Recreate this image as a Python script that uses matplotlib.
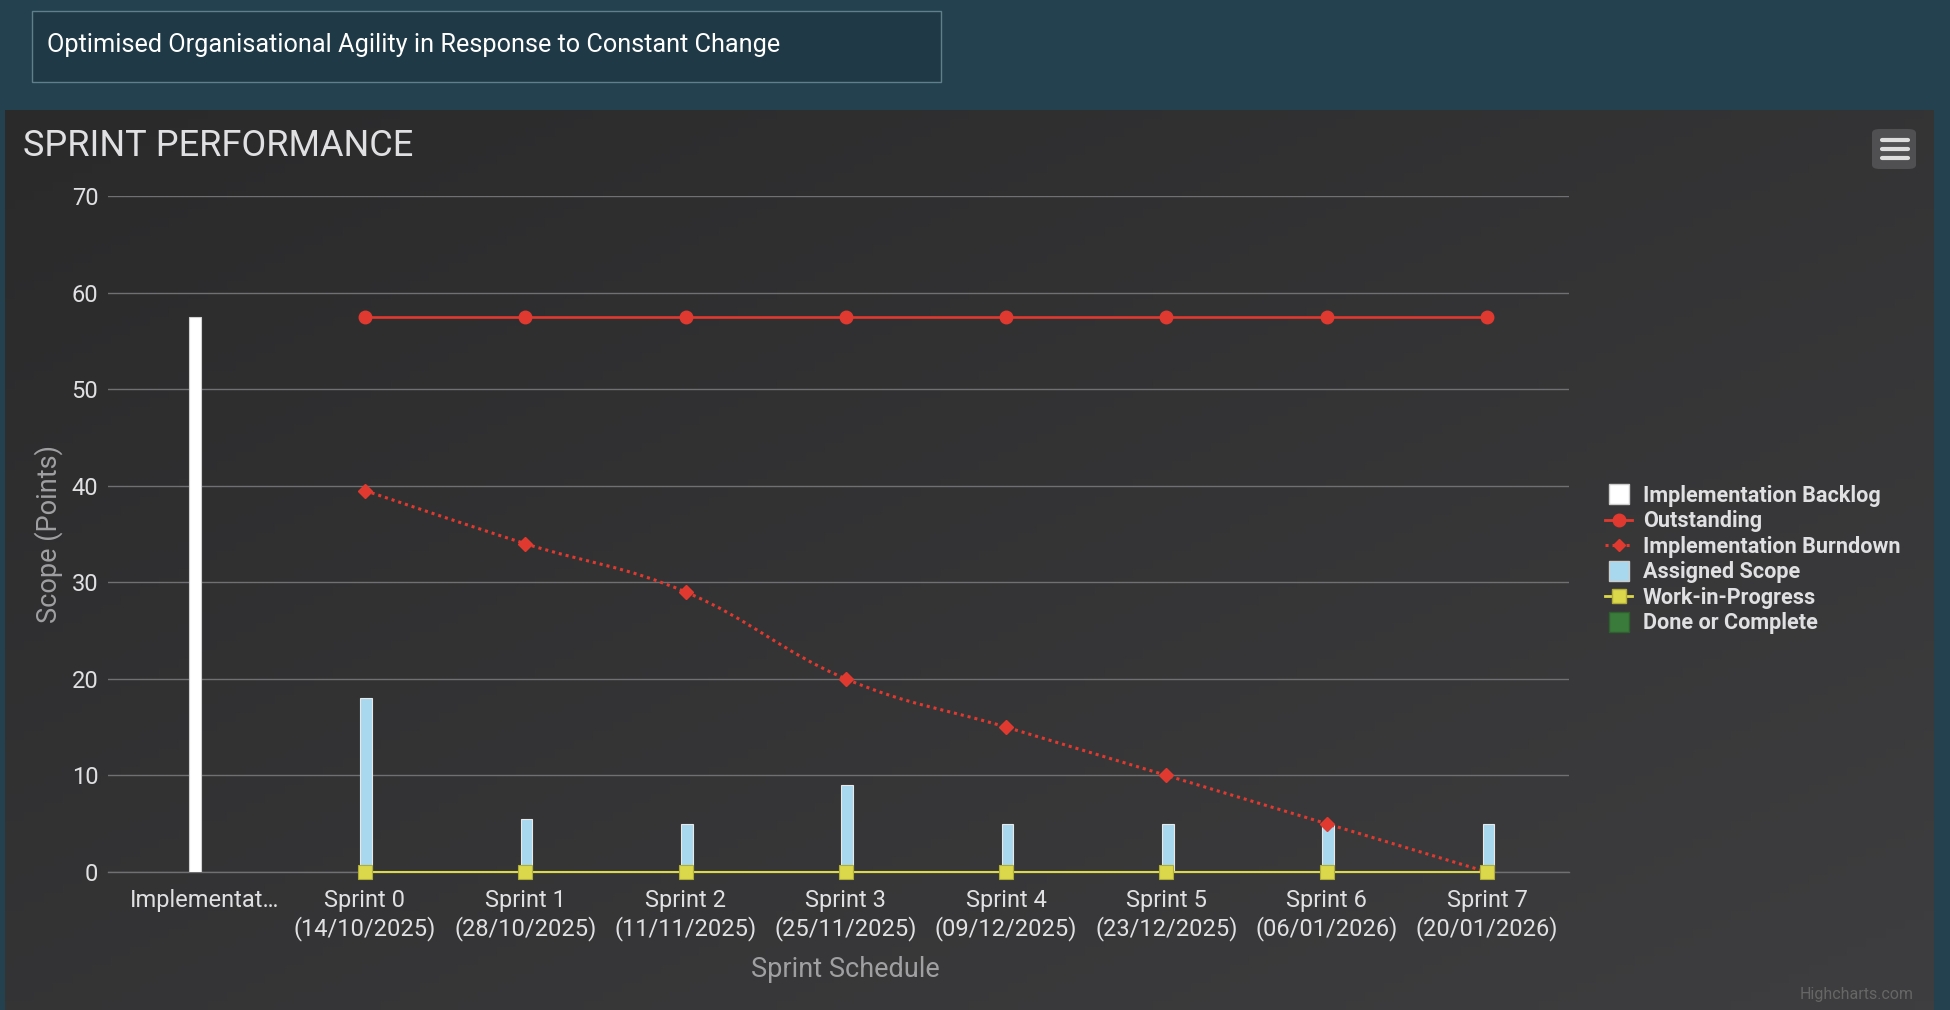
import numpy as np
import matplotlib
matplotlib.use("Agg")
import matplotlib.pyplot as plt
from matplotlib.path import Path
from matplotlib.patches import Rectangle, FancyBboxPatch, PathPatch
from matplotlib.lines import Line2D
from matplotlib.colors import LinearSegmentedColormap

plt.rcParams['font.family'] = ['Roboto', 'DejaVu Sans']

## DATA
categories = ["Implementat\u2026",
              "Sprint 0\n(14/10/2025)", "Sprint 1\n(28/10/2025)",
              "Sprint 2\n(11/11/2025)", "Sprint 3\n(25/11/2025)",
              "Sprint 4\n(09/12/2025)", "Sprint 5\n(23/12/2025)",
              "Sprint 6\n(06/01/2026)", "Sprint 7\n(20/01/2026)"]
backlog = [57.5]                                   # Implementation Backlog (first category)
outstanding = [57.5, 57.5, 57.5, 57.5, 57.5, 57.5, 57.5, 57.5]
burndown = [39.5, 34, 29, 20, 15, 10, 5, 0]
assigned = [18, 5.5, 5, 9, 5, 5, 5, 5]
wip = [0, 0, 0, 0, 0, 0, 0, 0]
done = [0, 0, 0, 0, 0, 0, 0, 0]

## STYLE
W, H = 1950, 1010
PAGE = '#23414e'
TXT = '#E0E0E3'
AXT = '#A0A0A3'
GRID = '#707073'
RED = '#e0392f'
BLUE = '#a8d8ee'
YELLOW = '#dcd84c'
GREEN = '#3a7a3a'

def fx(px):
    return px / W

def fy(py):
    return 1 - py / H

def spline_path(xs, ys, smoothing=1.5):
    """Highcharts-like spline through the points (cubic bezier segments)."""
    denom = smoothing + 1
    verts = [(xs[0], ys[0])]
    codes = [Path.MOVETO]
    right_prev = (xs[0], ys[0])
    n = len(xs)
    for i in range(1, n):
        x, y = xs[i], ys[i]
        if i < n - 1:
            lx = (smoothing * x + xs[i - 1]) / denom
            ly = (smoothing * y + ys[i - 1]) / denom
            rx = (smoothing * x + xs[i + 1]) / denom
            ry = (smoothing * y + ys[i + 1]) / denom
            corr = (ry - ly) * (rx - x) / (rx - lx) + y - ry
            ly += corr
            ry += corr
            if ly > max(ys[i - 1], y):
                ly = max(ys[i - 1], y); ry = 2 * y - ly
            elif ly < min(ys[i - 1], y):
                ly = min(ys[i - 1], y); ry = 2 * y - ly
            if ry > max(ys[i + 1], y):
                ry = max(ys[i + 1], y); ly = 2 * y - ry
            elif ry < min(ys[i + 1], y):
                ry = min(ys[i + 1], y); ly = 2 * y - ry
        else:
            lx, ly, rx, ry = x, y, x, y
        verts += [right_prev, (lx, ly), (x, y)]
        codes += [Path.CURVE4] * 3
        right_prev = (rx, ry)
    return Path(verts, codes)

fig = plt.figure(figsize=(W / 100, H / 100), dpi=100)
fig.patch.set_facecolor(PAGE)

# header box
fig.patches.append(Rectangle((fx(32), fy(82)), fx(941 - 32), (82 - 11) / H,
                             transform=fig.transFigure, facecolor='#1f3a46',
                             edgecolor='#5f7f8c', lw=1, zorder=0))
fig.text(fx(47), fy(45), "Optimised Organisational Agility in Response to Constant Change",
         color='white', fontsize=18.2, ha='left', va='center')

# chart panel with diagonal gradient
bg = fig.add_axes([fx(5), 0, fx(1934 - 5), (H - 110) / H], zorder=0)
gx, gy = np.meshgrid(np.linspace(0, 1, 200), np.linspace(0, 1, 100))
bg.imshow((gx + gy) / 2, cmap=LinearSegmentedColormap.from_list('bg', ['#2a2a2b', '#3e3e40']),
          aspect='auto', extent=(0, 1, 1, 0))
bg.axis('off')

fig.text(fx(23), fy(146), "SPRINT PERFORMANCE", color=TXT, fontsize=26,
         ha='left', va='center')

# context menu button
fig.patches.append(FancyBboxPatch((fx(1872), fy(169)), fx(1916 - 1872), (169 - 129) / H,
                                  boxstyle='round,pad=0,rounding_size=0.004',
                                  transform=fig.transFigure, facecolor='#505053',
                                  edgecolor='none', zorder=2))
for yy in (139.5, 148.5, 157.5):
    fig.lines.append(Line2D([fx(1882), fx(1908)], [fy(yy), fy(yy)], transform=fig.transFigure,
                            color='#DDDDDD', lw=3, solid_capstyle='round', zorder=3))

fig.text(fx(1914), fy(995), "Highcharts.com", color='#666666', fontsize=11.5,
         ha='right', va='center')

## MAIN AXES
ax = fig.add_axes([fx(108), fy(872), fx(1569 - 108), (872 - 196) / H], zorder=1)
ax.patch.set_alpha(0)
x_all = np.arange(len(categories))
x_spr = x_all[1:]

ax.bar(x_all[:1] - 0.06, backlog, width=0.077, color='white', edgecolor='#d0d0d0',
       lw=0.8, zorder=3)
ax.bar(x_spr + 0.008, assigned, width=0.072, color=BLUE, edgecolor='#e8e8e8', lw=0.8, zorder=3)
ax.bar(x_spr + 0.008, done, width=0.072, color=GREEN, lw=0, zorder=3)

ax.plot(x_spr, outstanding, color=RED, lw=1.9, marker='o', ms=9, zorder=5)
ax.add_patch(PathPatch(spline_path(list(x_spr), burndown), fill=False, edgecolor=RED,
                       lw=2.2, linestyle=(0, (1, 1.3)), zorder=5))
ax.plot(x_spr, burndown, ls='none', color=RED, marker='D', ms=7, zorder=6)
ax.plot(x_spr, wip, color=YELLOW, lw=1.5, marker='s', ms=10, mec='#b0ad38', mew=0.8,
        zorder=6, clip_on=False)

ax.set_xlim(-0.603, 8.511)
ax.set_ylim(0, 70)
ax.set_yticks(np.arange(0, 71, 10))
ax.set_xticks(x_all)
ax.set_xticklabels(categories, linespacing=1.25)
ax.tick_params(axis='both', length=0, labelsize=17, labelcolor=TXT)
ax.tick_params(axis='y', pad=7)
ax.tick_params(axis='x', pad=12)
ax.grid(axis='y', color=GRID, lw=1.0)
ax.set_axisbelow(True)
for s in ('top', 'right', 'left'):
    ax.spines[s].set_visible(False)
ax.spines['bottom'].set_color(GRID)
ax.spines['bottom'].set_linewidth(1.0)

ax.set_ylabel("Scope (Points)", color=AXT, fontsize=19.5)
ax.yaxis.set_label_coords(-0.031, 0.5)
ax.set_xlabel("Sprint Schedule", color=AXT, fontsize=19.5)
ax.xaxis.set_label_coords(0.505, -0.124)

## LEGEND
handles = [
    Line2D([], [], ls='none', marker='s', ms=15, mfc='white', mec='#cccccc'),
    Line2D([], [], color=RED, lw=2, marker='o', ms=9),
    Line2D([], [], color=RED, lw=2.2, ls=(0, (1, 1.3)), marker='D', ms=6.5),
    Line2D([], [], ls='none', marker='s', ms=15, mfc=BLUE, mec='#cccccc'),
    Line2D([], [], color=YELLOW, lw=2, marker='s', ms=10, mec='#b0ad38'),
    Line2D([], [], ls='none', marker='s', ms=15, mfc=GREEN, mec='#2f5f2f'),
]
labels = ["Implementation Backlog", "Outstanding", "Implementation Burndown",
          "Assigned Scope", "Work-in-Progress", "Done or Complete"]
leg = ax.legend(handles, labels, loc='upper left', bbox_to_anchor=(fx(1605), fy(485)),
                bbox_transform=fig.transFigure, frameon=False,
                prop={'family': 'Roboto', 'weight': 'bold', 'size': 15.6},
                labelcolor=TXT, handlelength=1.25, handletextpad=0.5,
                labelspacing=0.16, borderpad=0, borderaxespad=0)

fig.savefig("out.png", dpi=100, facecolor=fig.get_facecolor())
